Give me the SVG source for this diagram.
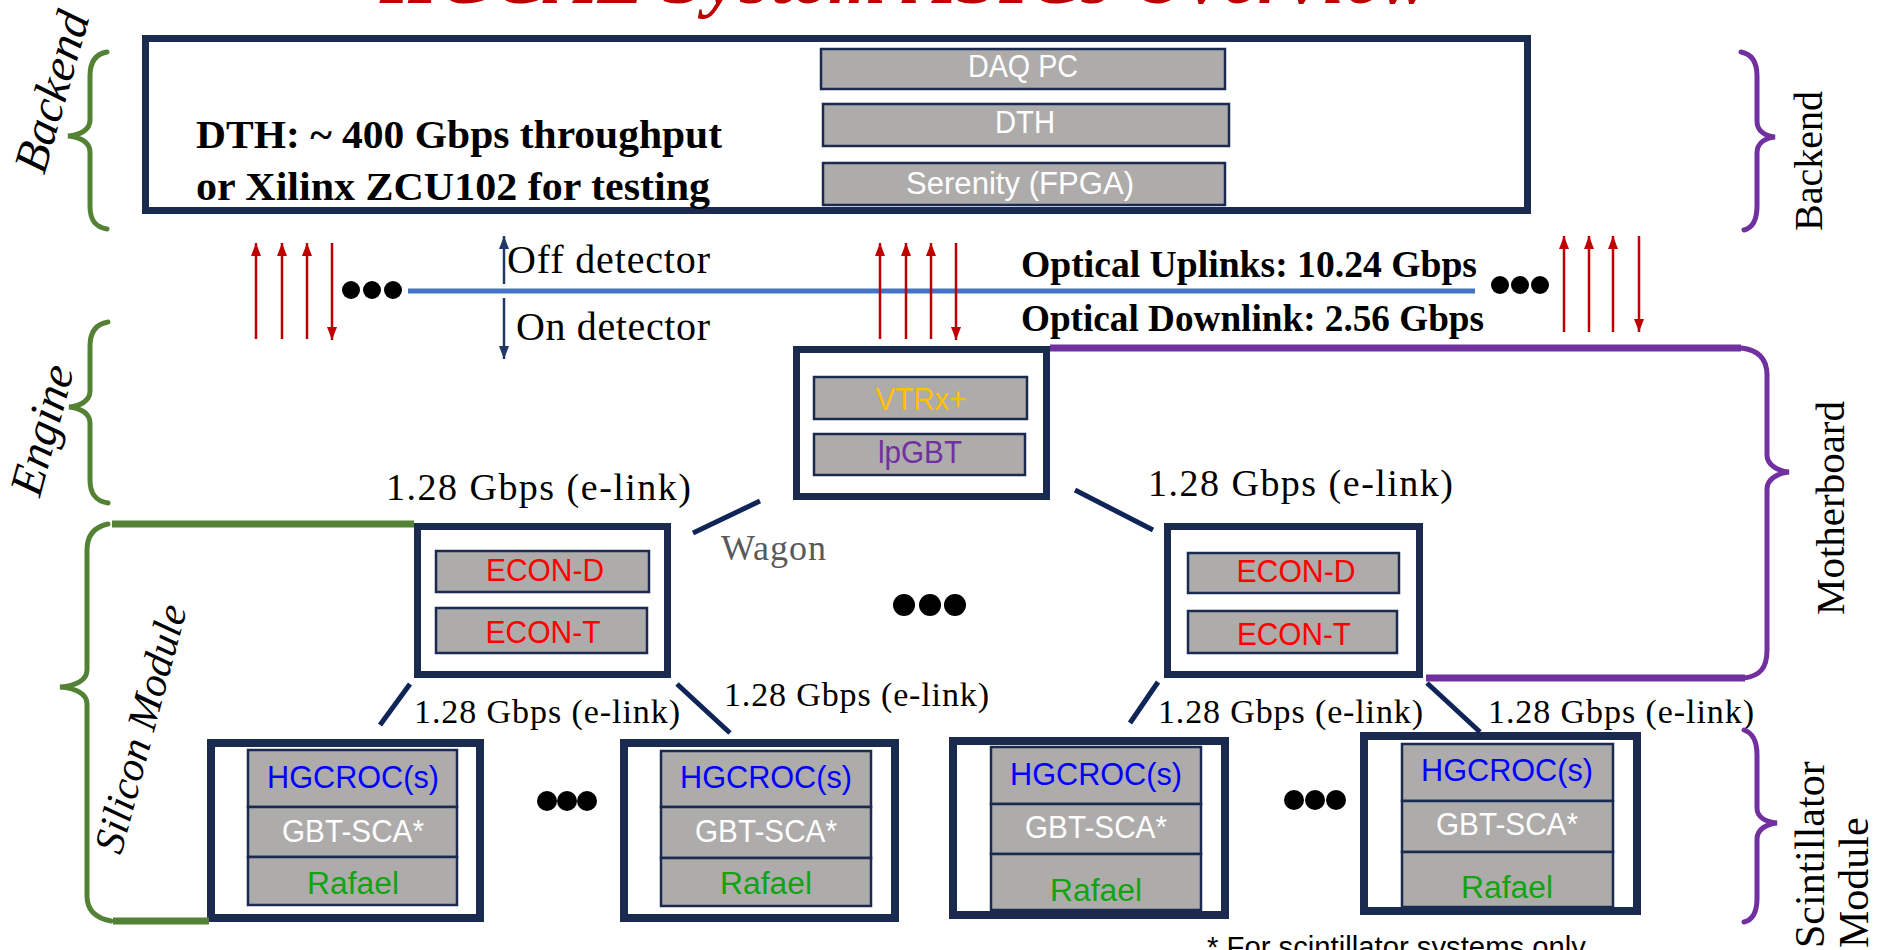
<svg xmlns="http://www.w3.org/2000/svg" width="1878" height="950" viewBox="0 0 1878 950">
  <defs>
    <style>
      .frame { fill: #ffffff; stroke: #1b2a4f; stroke-width: 7; }
      .mframe { fill: #ffffff; stroke: #1b2a4f; stroke-width: 8; }
      .chip { fill: #aeabab; stroke: #1b2a4f; stroke-width: 2.5; }
      .chipTxt { font-family: "Liberation Sans", Arial, sans-serif; font-size: 31px; text-anchor: middle; }
      .serif { font-family: "Liberation Serif", "Times New Roman", serif; fill: #000000; }
      .bold { font-weight: bold; }
      .ital { font-style: italic; }
      .up { stroke: #c00000; stroke-width: 2.5; fill: none; marker-end: url(#redHead); }
      .link { stroke: #0f2558; stroke-width: 5; fill: none; }
      .gBrace { fill: none; stroke: #548235; stroke-width: 5; stroke-linecap: round; }
      .pBrace { fill: none; stroke: #7030a0; stroke-width: 5; stroke-linecap: round; }
      .gArm { fill: none; stroke: #548235; stroke-width: 7; }
      .pArm { fill: none; stroke: #7030a0; stroke-width: 7; }
      .dot { fill: #000000; }
      .hg { fill: #0000ff; }
      .sca { fill: #ffffff; }
      .raf { fill: #12a312; }
      .econ { fill: #ff0000; }
    </style>
    <marker id="redHead" markerUnits="userSpaceOnUse" markerWidth="13" markerHeight="10" viewBox="0 0 13 10" refX="13" refY="5" orient="auto">
      <path d="M0,0 L13,5 L0,10 z" fill="#c00000"/>
    </marker>
    <marker id="navyHead" markerUnits="userSpaceOnUse" markerWidth="13" markerHeight="10" viewBox="0 0 13 10" refX="13" refY="5" orient="auto">
      <path d="M0,0 L13,5 L0,10 z" fill="#1f3864"/>
    </marker>
  </defs>

  <rect width="1878" height="950" fill="#ffffff"/>

  <!-- Title (top edge of the slide) -->
  <text id="title" x="380" y="3" class="serif bold ital" font-size="74" fill="#c00000" style="fill:#c00000" textLength="1050" lengthAdjust="spacing">HGCAL System ASICs Overview</text>

  <!-- Backend -->
  <g id="backend">
    <rect class="frame" x="145.5" y="38.5" width="1382" height="172"/>
    <text class="serif bold" x="196" y="148" font-size="40" textLength="526" lengthAdjust="spacingAndGlyphs">DTH: ~ 400 Gbps  throughput</text>
    <text class="serif bold" x="196" y="200" font-size="40" textLength="514" lengthAdjust="spacingAndGlyphs">or Xilinx  ZCU102 for testing</text>
    <g id="daq-pc">
      <rect class="chip" x="821" y="49" width="404" height="40"/>
      <text class="chipTxt sca" x="1023" y="77" textLength="110" lengthAdjust="spacingAndGlyphs">DAQ PC</text>
    </g>
    <g id="dth">
      <rect class="chip" x="823" y="104" width="406" height="42"/>
      <text class="chipTxt sca" x="1025" y="133" textLength="60" lengthAdjust="spacingAndGlyphs">DTH</text>
    </g>
    <g id="serenity">
      <rect class="chip" x="823" y="163" width="402" height="42"/>
      <text class="chipTxt sca" x="1020" y="194" textLength="228" lengthAdjust="spacingAndGlyphs">Serenity (FPGA)</text>
    </g>
  </g>

  <!-- Engine -->
  <g id="engine">
    <rect class="frame" x="796.5" y="349.5" width="250" height="147"/>
    <g id="vtrx">
      <rect class="chip" x="814" y="377" width="213" height="42"/>
      <text class="chipTxt" x="921" y="410" fill="#ffc000" textLength="91" lengthAdjust="spacingAndGlyphs">VTRx+</text>
    </g>
    <g id="lpgbt">
      <rect class="chip" x="814" y="434" width="211" height="41"/>
      <text class="chipTxt" x="920" y="463" fill="#7030a0" textLength="84" lengthAdjust="spacingAndGlyphs">lpGBT</text>
    </g>
  </g>

  <!-- Wagons -->
  <g id="wagon-left">
    <rect class="frame" x="417.5" y="526.5" width="250" height="148"/>
    <rect class="chip" x="436" y="551" width="213" height="41"/>
    <text class="chipTxt econ" x="545" y="581" textLength="118" lengthAdjust="spacingAndGlyphs">ECON-D</text>
    <rect class="chip" x="436" y="608" width="211" height="45"/>
    <text class="chipTxt econ" x="543" y="643" textLength="115" lengthAdjust="spacingAndGlyphs">ECON-T</text>
  </g>
  <g id="wagon-right">
    <rect class="frame" x="1167.5" y="526.5" width="252" height="148"/>
    <rect class="chip" x="1188" y="553" width="211" height="40"/>
    <text class="chipTxt econ" x="1296" y="582" textLength="119" lengthAdjust="spacingAndGlyphs">ECON-D</text>
    <rect class="chip" x="1188" y="611" width="209" height="42"/>
    <text class="chipTxt econ" x="1294" y="645" textLength="114" lengthAdjust="spacingAndGlyphs">ECON-T</text>
  </g>

  <!-- Front-end modules -->
  <g id="module-1">
    <rect class="mframe" x="211" y="743" width="269" height="175"/>
    <rect class="chip" x="248" y="750" width="209" height="57"/>
    <rect class="chip" x="248" y="807" width="209" height="50"/>
    <rect class="chip" x="248" y="857" width="209" height="48"/>
    <text class="chipTxt hg" x="353" y="788" textLength="172" lengthAdjust="spacingAndGlyphs">HGCROC(s)</text>
    <text class="chipTxt sca" x="353" y="842" textLength="142" lengthAdjust="spacingAndGlyphs">GBT-SCA*</text>
    <text class="chipTxt raf" x="353" y="894" textLength="92" lengthAdjust="spacingAndGlyphs">Rafael</text>
  </g>
  <g id="module-2">
    <rect class="mframe" x="624" y="743" width="271" height="175"/>
    <rect class="chip" x="661" y="751" width="210" height="56"/>
    <rect class="chip" x="661" y="807" width="210" height="51"/>
    <rect class="chip" x="661" y="858" width="210" height="48"/>
    <text class="chipTxt hg" x="766" y="788" textLength="172" lengthAdjust="spacingAndGlyphs">HGCROC(s)</text>
    <text class="chipTxt sca" x="766" y="842" textLength="142" lengthAdjust="spacingAndGlyphs">GBT-SCA*</text>
    <text class="chipTxt raf" x="766" y="894" textLength="92" lengthAdjust="spacingAndGlyphs">Rafael</text>
  </g>
  <g id="module-3">
    <rect class="mframe" x="953" y="741" width="272" height="174"/>
    <rect class="chip" x="991" y="747" width="210" height="57"/>
    <rect class="chip" x="991" y="804" width="210" height="50"/>
    <rect class="chip" x="991" y="854" width="210" height="56"/>
    <text class="chipTxt hg" x="1096" y="785" textLength="172" lengthAdjust="spacingAndGlyphs">HGCROC(s)</text>
    <text class="chipTxt sca" x="1096" y="838" textLength="142" lengthAdjust="spacingAndGlyphs">GBT-SCA*</text>
    <text class="chipTxt raf" x="1096" y="901" textLength="92" lengthAdjust="spacingAndGlyphs">Rafael</text>
  </g>
  <g id="module-4">
    <rect class="mframe" x="1364" y="736" width="273" height="175"/>
    <rect class="chip" x="1402" y="744" width="211" height="57"/>
    <rect class="chip" x="1402" y="801" width="211" height="51"/>
    <rect class="chip" x="1402" y="852" width="211" height="55"/>
    <text class="chipTxt hg" x="1507" y="781" textLength="172" lengthAdjust="spacingAndGlyphs">HGCROC(s)</text>
    <text class="chipTxt sca" x="1507" y="835" textLength="142" lengthAdjust="spacingAndGlyphs">GBT-SCA*</text>
    <text class="chipTxt raf" x="1507" y="898" textLength="92" lengthAdjust="spacingAndGlyphs">Rafael</text>
  </g>

  <!-- Connectors -->
  <g id="connectors">
    <!-- detector boundary -->
    <line x1="408" y1="291" x2="1475" y2="291" stroke="#4472c4" stroke-width="5"/>
    <line x1="504" y1="284" x2="504" y2="236" stroke="#1f3864" stroke-width="2.5" marker-end="url(#navyHead)"/>
    <line x1="504" y1="298" x2="504" y2="359" stroke="#1f3864" stroke-width="2.5" marker-end="url(#navyHead)"/>
    <!-- optical links -->
    <line class="up" x1="256" y1="339" x2="256" y2="243"/>
    <line class="up" x1="282" y1="339" x2="282" y2="243"/>
    <line class="up" x1="307" y1="339" x2="307" y2="243"/>
    <line class="up" x1="332" y1="243" x2="332" y2="340"/>
    <line class="up" x1="880" y1="339" x2="880" y2="243"/>
    <line class="up" x1="906" y1="339" x2="906" y2="243"/>
    <line class="up" x1="931" y1="339" x2="931" y2="243"/>
    <line class="up" x1="956" y1="243" x2="956" y2="340"/>
    <line class="up" x1="1564" y1="332" x2="1564" y2="236"/>
    <line class="up" x1="1589" y1="332" x2="1589" y2="236"/>
    <line class="up" x1="1613" y1="332" x2="1613" y2="236"/>
    <line class="up" x1="1639" y1="236" x2="1639" y2="332"/>
    <!-- e-links -->
    <line class="link" x1="760" y1="501" x2="693" y2="533"/>
    <line class="link" x1="1075" y1="490" x2="1153" y2="530"/>
    <line class="link" x1="410" y1="684" x2="380" y2="725"/>
    <line class="link" x1="677" y1="684" x2="730" y2="733"/>
    <line class="link" x1="1158" y1="682" x2="1130" y2="723"/>
    <line class="link" x1="1427" y1="683" x2="1480" y2="732"/>
  </g>

  <!-- Link labels -->
  <g id="labels">
    <text class="serif" x="507" y="273" font-size="40" textLength="203" lengthAdjust="spacing">Off detector</text>
    <text class="serif" x="516" y="340" font-size="40" textLength="194" lengthAdjust="spacing">On detector</text>
    <text class="serif bold" x="1021" y="277" font-size="38" textLength="456" lengthAdjust="spacingAndGlyphs">Optical Uplinks:  10.24 Gbps</text>
    <text class="serif bold" x="1021" y="331" font-size="38" textLength="463" lengthAdjust="spacingAndGlyphs">Optical Downlink: 2.56 Gbps</text>
    <text class="serif" x="386" y="500" font-size="38" textLength="305" lengthAdjust="spacing">1.28 Gbps  (e-link)</text>
    <text class="serif" x="1148" y="496" font-size="38" textLength="305" lengthAdjust="spacing">1.28 Gbps  (e-link)</text>
    <text class="serif" x="414" y="723" font-size="34" textLength="266" lengthAdjust="spacing">1.28 Gbps (e-link)</text>
    <text class="serif" x="724" y="706" font-size="34" textLength="265" lengthAdjust="spacing">1.28 Gbps (e-link)</text>
    <text class="serif" x="1158" y="723" font-size="34" textLength="265" lengthAdjust="spacing">1.28 Gbps (e-link)</text>
    <text class="serif" x="1488" y="723" font-size="34" textLength="266" lengthAdjust="spacing">1.28 Gbps (e-link)</text>
    <text class="serif" x="721" y="560" font-size="36" fill="#595959" style="fill:#595959" textLength="105" lengthAdjust="spacing">Wagon</text>
  </g>

  <!-- Ellipses -->
  <g id="ellipses">
    <circle class="dot" cx="351" cy="290" r="9"/>
    <circle class="dot" cx="372" cy="290" r="9"/>
    <circle class="dot" cx="393" cy="290" r="9"/>
    <circle class="dot" cx="1500" cy="285" r="9"/>
    <circle class="dot" cx="1520" cy="285" r="9"/>
    <circle class="dot" cx="1540" cy="285" r="9"/>
    <circle class="dot" cx="904" cy="605" r="11"/>
    <circle class="dot" cx="930" cy="605" r="11"/>
    <circle class="dot" cx="955" cy="605" r="11"/>
    <circle class="dot" cx="547" cy="801" r="10"/>
    <circle class="dot" cx="567" cy="801" r="10"/>
    <circle class="dot" cx="587" cy="801" r="10"/>
    <circle class="dot" cx="1294" cy="800" r="10"/>
    <circle class="dot" cx="1315" cy="800" r="10"/>
    <circle class="dot" cx="1336" cy="800" r="10"/>
  </g>

  <!-- Left-hand groupings -->
  <g id="group-backend-left">
    <path class="gBrace" d="M107,52 C95,54 90,62 90,76 L90,120 C90,130 80,135 68,136 C80,137 90,142 90,152 L90,206 C90,220 95,227 107,229"/>
    <text class="serif ital" x="67" y="96" font-size="48" text-anchor="middle" transform="rotate(-74 67 96)">Backend</text>
  </g>
  <g id="group-engine">
    <path class="gBrace" d="M108,322 C96,324 90,332 90,346 L90,391 C90,401 80,406 69,407 C80,408 90,413 90,423 L90,480 C90,494 96,501 108,503"/>
    <text class="serif ital" x="57" y="434" font-size="47" text-anchor="middle" transform="rotate(-75 57 434)">Engine</text>
  </g>
  <g id="group-silicon">
    <path class="gArm" d="M414,524 L112,524"/>
    <path class="gArm" d="M113,921 L209,921"/>
    <path class="gBrace" d="M108,524 C94,527 87,535 87,550 L87,670 C87,680 76,686 60,687 C76,688 87,694 87,704 L87,896 C87,910 95,918 111,921"/>
    <text class="serif ital" x="154" y="732" font-size="42" text-anchor="middle" transform="rotate(-75 154 732)">Silicon  Module</text>
  </g>

  <!-- Right-hand groupings -->
  <g id="group-backend-right">
    <path class="pBrace" d="M1741,52 C1752,54 1757,62 1757,76 L1757,121 C1757,131 1765,136 1775,137 C1765,138 1757,143 1757,153 L1757,206 C1757,220 1752,228 1744,230"/>
    <text class="serif" x="1822" y="161" font-size="40" text-anchor="middle" transform="rotate(-90 1822 161)">Backend</text>
  </g>
  <g id="group-motherboard">
    <path class="pArm" d="M1050,348 L1741,348"/>
    <path class="pArm" d="M1426,678 L1745,678"/>
    <path class="pBrace" d="M1741,348 C1760,350 1767,360 1767,375 L1767,455 C1767,465 1778,471 1789,472 C1778,473 1767,479 1767,489 L1767,650 C1767,668 1760,676 1744,678"/>
    <text class="serif" x="1844" y="508" font-size="41" text-anchor="middle" transform="rotate(-90 1844 508)">Motherboard</text>
  </g>
  <g id="group-scintillator">
    <path class="pBrace" d="M1744,730 C1753,733 1757,741 1757,755 L1757,808 C1757,818 1767,822 1777,823 C1767,824 1757,829 1757,839 L1757,898 C1757,912 1753,920 1744,922"/>
    <text class="serif" x="1824" y="948" font-size="42" transform="rotate(-90 1824 948)">Scintillator</text>
    <text class="serif" x="1868" y="948" font-size="42" transform="rotate(-90 1868 948)">Module</text>
  </g>

  <!-- Footnote -->
  <text id="footnote" x="1207" y="957" font-family="Liberation Sans, Arial, sans-serif" font-size="30" fill="#000000" textLength="379" lengthAdjust="spacingAndGlyphs">* For scintillator systems only</text>
</svg>
